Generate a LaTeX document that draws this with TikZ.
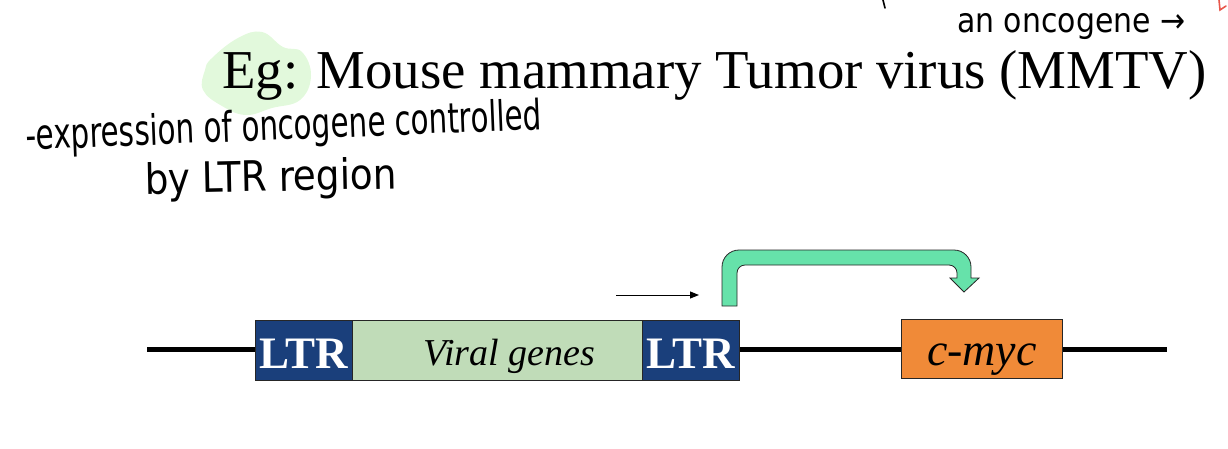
\documentclass[tikz,border=0pt]{standalone}
\usepackage{fontspec}
\setmainfont{Liberation Serif}
\newfontfamily\handfont{DejaVu Sans}
\usetikzlibrary{arrows.meta}
\definecolor{ltrblue}{HTML}{1A3F7B}
\definecolor{viralgreen}{HTML}{C0DCB8}
\definecolor{mycorange}{HTML}{F08A38}
\definecolor{arrowgreen}{HTML}{66E2AA}
\definecolor{hilite}{HTML}{E2F9DC}
\definecolor{inkred}{HTML}{E8584C}
\tikzset{
  genebox/.style={draw=black!85, line width=0.8pt, minimum height=60pt, inner sep=0pt, anchor=north west},
  ltrbox/.style={genebox, fill=ltrblue, text=white, font=\fontsize{45}{45}\selectfont\bfseries, minimum width=97pt, text height=48pt, text depth=12pt},
  handtext/.style={font=\handfont\fontsize{42}{42}\selectfont, inner sep=0pt, transform shape},
  dna/.style={line width=5pt},
}
\begin{document}
\begin{tikzpicture}[x=1pt,y=-1pt]
\useasboundingbox (0,0) rectangle (1228,448);
% highlight blob behind "Eg:"
\fill[hilite] plot[smooth cycle, tension=0.7] coordinates {(212,58) (238,38) (262,32) (283,47) (302,52) (311,76) (300,100) (272,108) (246,115) (222,106) (203,90) (205,70)};
% title
\node[anchor=base west, inner sep=0pt, font=\fontsize{54.8}{55}\selectfont] (title) at (222,88) {Eg: Mouse mammary Tumor virus (MMTV)};
% handwritten notes
\node[handtext, anchor=base west, rotate=2.3, xscale=0.70] (note1) at (26,150) {-expression of oncogene controlled};
\node[handtext, anchor=base west, rotate=1.2, xscale=0.89] (note2) at (145,194) {by LTR region};
\node[handtext, anchor=base west, xscale=0.88, font=\handfont\fontsize{34}{34}\selectfont] (note3) at (957,32) {an oncogene →};
\draw[line width=1.6pt, line cap=round] (883,0) -- (885,8);
\draw[inkred, line width=1.6pt, line cap=round] (1219,0) -- (1220,10) -- (1226,6);
% DNA line
\coordinate (dnaL) at (147,349);
\coordinate (dnaR) at (1167,349);
\draw[dna] (dnaL) -- (dnaR);
% boxes
\node[ltrbox] (ltr1) at (255,320) {LTR};
\node[genebox, fill=viralgreen, minimum width=290pt, text height=45pt, text depth=15pt, font=\fontsize{38}{38}\selectfont\itshape] (viral) at (352,320) {\hspace*{24pt}Viral genes};
\node[ltrbox] (ltr2) at (642,320) {LTR};
\node[genebox, fill=mycorange, minimum width=161pt, minimum height=59pt, text height=46pt, text depth=13pt, font=\fontsize{46}{46}\selectfont\itshape] (myc) at (901,319) {c-myc};
% small arrow
\coordinate (sa1) at (616,295);
\coordinate (sa2) at (699,295);
\draw[line width=1pt, -{Triangle[length=9pt, width=7pt]}] (sa1) -- (sa2);
% green bent arrow
\draw[fill=arrowgreen, draw=black!85, line width=0.8pt]
  (722,306) -- (722,267) arc[start angle=180, end angle=270, radius=17]
  -- (954,250) arc[start angle=270, end angle=360, radius=17]
  -- (971,278) -- (979,278) -- (964,292) -- (950,278) -- (957,278)
  -- (957,273) arc[start angle=360, end angle=270, radius=8]
  -- (745,265) arc[start angle=270, end angle=180, radius=8]
  -- (737,306) -- cycle;
\end{tikzpicture}
\end{document}
